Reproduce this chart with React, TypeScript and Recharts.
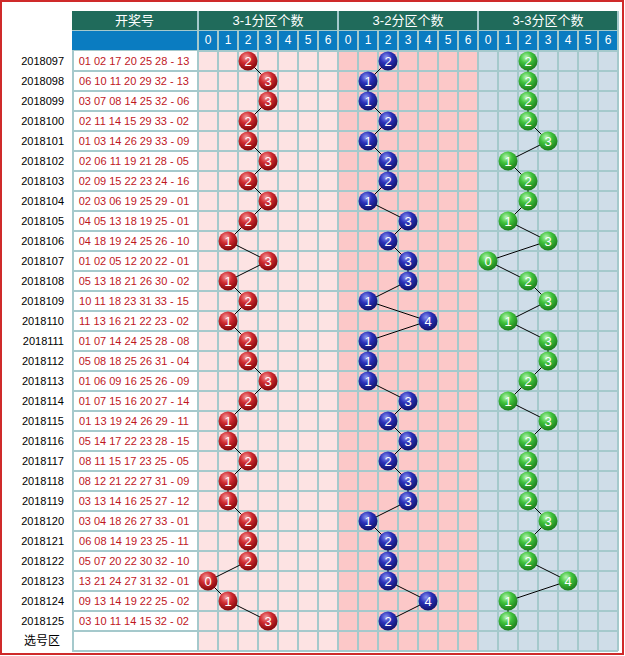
import { ScatterChart, Scatter, XAxis, YAxis, ReferenceArea, ReferenceLine } from 'recharts'

const ISSUES = [
  '2018097', '2018098', '2018099', '2018100', '2018101', '2018102', '2018103', '2018104',
  '2018105', '2018106', '2018107', '2018108', '2018109', '2018110', '2018111', '2018112',
  '2018113', '2018114', '2018115', '2018116', '2018117', '2018118', '2018119', '2018120',
  '2018121', '2018122', '2018123', '2018124', '2018125',
]

const DRAWS = [
  '01 02 17 20 25 28 - 13', '06 10 11 20 29 32 - 13', '03 07 08 14 25 32 - 06',
  '02 11 14 15 29 33 - 02', '01 03 14 26 29 33 - 09', '02 06 11 19 21 28 - 05',
  '02 09 15 22 23 24 - 16', '02 03 06 19 25 29 - 01', '04 05 13 18 19 25 - 01',
  '04 18 19 24 25 26 - 10', '01 02 05 12 20 22 - 01', '05 13 18 21 26 30 - 02',
  '10 11 18 23 31 33 - 15', '11 13 16 21 22 23 - 02', '01 07 14 24 25 28 - 08',
  '05 08 18 25 26 31 - 04', '01 06 09 16 25 26 - 09', '01 07 15 16 20 27 - 14',
  '01 13 19 24 26 29 - 11', '05 14 17 22 23 28 - 15', '08 11 15 17 23 25 - 05',
  '08 12 21 22 27 31 - 09', '03 13 14 16 25 27 - 12', '03 04 18 26 27 33 - 01',
  '06 08 14 19 23 25 - 11', '05 07 20 22 30 32 - 10', '13 21 24 27 31 32 - 01',
  '09 13 14 19 22 25 - 02', '03 10 11 14 15 32 - 02',
]

// count of numbers falling in each third (01-11, 12-22, 23-33)
const ZONE1 = [2, 3, 3, 2, 2, 3, 2, 3, 2, 1, 3, 1, 2, 1, 2, 2, 3, 2, 1, 1, 2, 1, 1, 2, 2, 2, 0, 1, 3]
const ZONE2 = [2, 1, 1, 2, 1, 2, 2, 1, 3, 2, 3, 3, 1, 4, 1, 1, 1, 3, 2, 3, 2, 3, 3, 1, 2, 2, 2, 4, 2]
const ZONE3 = [2, 2, 2, 2, 3, 1, 2, 2, 1, 3, 0, 2, 3, 1, 3, 3, 2, 1, 3, 2, 2, 2, 2, 3, 2, 2, 4, 1, 1]

const ZONE_TITLES = ['3-1分区个数', '3-2分区个数', '3-3分区个数']
const DIGITS = [0, 1, 2, 3, 4, 5, 6]
const PICK_LABEL = '选号区'

const ROW_LABELS = [...ISSUES, PICK_LABEL]
const ROW_TICKS = ROW_LABELS.map((_, i) => i)

const rows = ISSUES.map((issue, i) => ({
  row: i,
  issue,
  z1: ZONE1[i],
  z2: ZONE2[i],
  z3: ZONE3[i],
}))

const FONT = '"Liberation Sans", "Noto Sans CJK SC", sans-serif'
const GRID = '#a5c9cc'
const ZONE_FILLS = ['#fde3e3', '#fcc8c8', '#cfdde8']
const COL_BOUNDS = Array.from({ length: 22 }, (_, k) => k - 0.5)
const ROW_BOUNDS = Array.from({ length: 31 }, (_, k) => k - 0.5)

const RowTick = (props: any) => {
  const { y, payload } = props
  const i = payload.value as number
  const label = ROW_LABELS[i]
  const draw = DRAWS[i] ?? ''
  return (
    <g>
      <text x={i < ISSUES.length ? 64 : 42} y={y} dy={4} textAnchor={i < ISSUES.length ? 'end' : 'middle'}
        fontSize={i < ISSUES.length ? 11 : 12} fill="#000" fontFamily={FONT}>
        {label}
      </text>
      <rect x={73} y={y - 9} width={124} height={18} fill="#fff" />
      <line x1={72} x2={198} y1={y + 10} y2={y + 10} stroke={GRID} strokeWidth={2} />
      <line x1={73} x2={73} y1={y - 10} y2={y + 10} stroke={GRID} strokeWidth={2} />
      <text x={134} y={y} dy={4} textAnchor="middle" fontSize={11} fill="#c0161e" fontFamily={FONT}>
        {draw}
      </text>
    </g>
  )
}

const makeBall = (key: 'z1' | 'z2' | 'z3', grad: string) => (props: any) => {
  const { cx, cy, payload } = props
  return (
    <g>
      <circle cx={cx} cy={cy} r={9.5} fill={`url(#${grad})`} />
      <text x={cx} y={cy} dy={5} textAnchor="middle" fontSize={13} fill="#fff" fontFamily={FONT}>
        {payload[key]}
      </text>
    </g>
  )
}

const headerCell = (left: number, top: number, width: number, height: number, bg: string, text: string, fontSize = 12) => (
  <div
    key={`${left}-${top}`}
    style={{
      position: 'absolute', left, top, width, height, background: bg, color: '#fff',
      fontSize, lineHeight: `${height}px`, textAlign: 'center', fontFamily: FONT,
    }}
  >
    {text}
  </div>
)

export default function App() {
  const zoneX = [198, 338, 478]
  return (
    <div style={{ position: 'absolute', left: 0, top: 0, width: 625, height: 656, background: '#fff' }}>
      <svg width={0} height={0} style={{ position: 'absolute' }}>
        <defs>
          <radialGradient id="ballRed" cx="40%" cy="30%" r="70%">
            <stop offset="0%" stopColor="#f59a9a" />
            <stop offset="45%" stopColor="#cf2a30" />
            <stop offset="100%" stopColor="#82080c" />
          </radialGradient>
          <radialGradient id="ballBlue" cx="40%" cy="30%" r="70%">
            <stop offset="0%" stopColor="#8c96f2" />
            <stop offset="45%" stopColor="#2a30b8" />
            <stop offset="100%" stopColor="#10146a" />
          </radialGradient>
          <radialGradient id="ballGreen" cx="40%" cy="30%" r="70%">
            <stop offset="0%" stopColor="#b6f5b0" />
            <stop offset="45%" stopColor="#3fc23c" />
            <stop offset="100%" stopColor="#1d7d1c" />
          </radialGradient>
        </defs>
      </svg>

      <ScatterChart width={625} height={656} margin={{ top: 51, right: 7, bottom: 5, left: 0 }}>
        <XAxis xAxisId="z1" type="number" dataKey="z1" domain={[-0.5, 20.5]} allowDataOverflow hide />
        <XAxis xAxisId="z2" type="number" dataKey="z2" domain={[-7.5, 13.5]} allowDataOverflow hide />
        <XAxis xAxisId="z3" type="number" dataKey="z3" domain={[-14.5, 6.5]} allowDataOverflow hide />
        <YAxis
          type="number"
          dataKey="row"
          domain={[-0.5, 29.5]}
          allowDataOverflow
          reversed
          ticks={ROW_TICKS}
          interval={0}
          width={198}
          axisLine={false}
          tickLine={false}
          tick={<RowTick />}
        />
        <ReferenceArea xAxisId="z1" x1={-0.5} x2={6.5} fill={ZONE_FILLS[0]} fillOpacity={1} />
        <ReferenceArea xAxisId="z1" x1={6.5} x2={13.5} fill={ZONE_FILLS[1]} fillOpacity={1} />
        <ReferenceArea xAxisId="z1" x1={13.5} x2={20.5} fill={ZONE_FILLS[2]} fillOpacity={1} />
        {COL_BOUNDS.map((v) => (
          <ReferenceLine key={`c${v}`} xAxisId="z1" x={v} stroke={GRID} strokeWidth={2} />
        ))}
        {ROW_BOUNDS.map((v) => (
          <ReferenceLine key={`r${v}`} xAxisId="z1" y={v} stroke={GRID} strokeWidth={2} />
        ))}
        <Scatter xAxisId="z1" data={rows} line={{ stroke: '#000', strokeWidth: 1 }}
          shape={makeBall('z1', 'ballRed')} isAnimationActive={false} />
        <Scatter xAxisId="z2" data={rows} line={{ stroke: '#000', strokeWidth: 1 }}
          shape={makeBall('z2', 'ballBlue')} isAnimationActive={false} />
        <Scatter xAxisId="z3" data={rows} line={{ stroke: '#000', strokeWidth: 1 }}
          shape={makeBall('z3', 'ballGreen')} isAnimationActive={false} />
      </ScatterChart>

      {/* header */}
      <div style={{ position: 'absolute', left: 72, top: 11, width: 547, height: 40, background: GRID }} />
      {headerCell(72, 11, 125, 19, '#206b5b', '开奖号', 13)}
      {headerCell(72, 31, 125, 19, '#0a7cc1', '')}
      {ZONE_TITLES.map((t, z) => headerCell(zoneX[z] + 1, 11, 138, 19, '#206b5b', t, 13))}
      {ZONE_TITLES.map((_, z) =>
        DIGITS.map((d) => headerCell(zoneX[z] + d * 20 + 1, 31, 18, 19, '#0a7cc1', String(d), 12)),
      )}

      <div style={{
        position: 'absolute', left: 0, top: 0, width: 624, height: 655, boxSizing: 'border-box',
        border: '2px solid #cf2a2a', pointerEvents: 'none',
      }} />
    </div>
  )
}
